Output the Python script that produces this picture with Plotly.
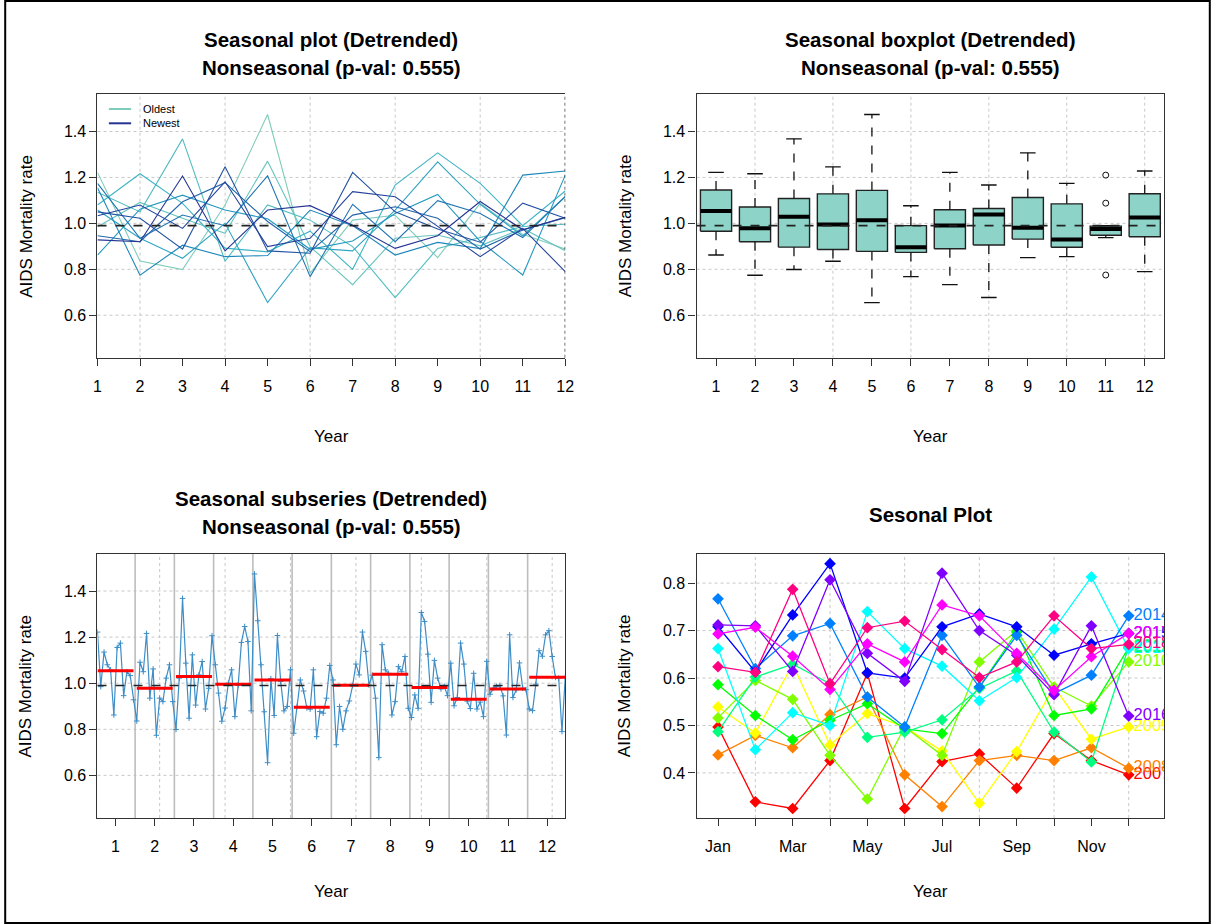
import numpy as np
import plotly.graph_objects as go

# ---------------- data ----------------
years = [2007, 2008, 2009, 2010, 2011, 2012, 2013, 2014, 2015, 2016, 2017, 2018]
month_ticks = [1, 2, 3, 4, 5, 6, 7, 8, 9, 10, 11, 12]
month_names = ["Jan", "Feb", "Mar", "Apr", "May", "Jun", "Jul", "Aug", "Sep", "Oct", "Nov", "Dec"]
y_ticks_det = [0.6, 0.8, 1.0, 1.2, 1.4]
y_ticks_raw = [0.4, 0.5, 0.6, 0.7, 0.8]

# detrended values, one list per month, years oldest -> newest
det_m01 = [1.222, 0.985, 1.135, 1.080, 1.058, 0.862, 1.155, 1.174, 0.946, 1.050, 1.033, 0.928]
det_m02 = [0.836, 1.091, 1.050, 1.216, 0.935, 1.062, 0.774, 0.935, 0.920, 1.022, 1.080, 0.920]
det_m03 = [0.799, 1.022, 1.368, 1.087, 0.848, 1.123, 0.905, 1.036, 1.094, 0.888, 0.978, 1.206]
det_m04 = [1.080, 0.957, 0.835, 0.892, 1.000, 1.058, 0.855, 0.990, 1.177, 1.246, 1.181, 0.880]
det_m05 = [1.474, 1.271, 1.080, 0.876, 0.655, 1.020, 0.860, 1.207, 1.008, 0.880, 0.899, 1.058]
det_m06 = [0.783, 0.899, 1.014, 0.966, 0.893, 0.887, 1.058, 0.768, 0.877, 0.870, 0.935, 1.077]
det_m07 = [1.014, 0.733, 0.899, 0.800, 0.880, 0.923, 0.990, 1.083, 1.036, 1.222, 1.138, 0.992]
det_m08 = [1.035, 0.935, 0.677, 1.167, 1.058, 1.043, 0.862, 0.920, 1.072, 1.050, 1.116, 0.891]
det_m09 = [0.851, 0.949, 0.891, 1.307, 1.268, 1.126, 0.917, 1.099, 1.022, 0.975, 0.987, 0.946]
det_m10 = [1.087, 0.902, 0.938, 1.174, 1.083, 0.922, 0.890, 1.043, 0.888, 0.918, 0.855, 1.095]
det_m11 = [0.952, 0.978, 0.986, 0.990, 0.945, 0.775, 1.210, 0.938, 0.971, 1.088, 0.978, 0.972]
det_m12 = [0.888, 0.881, 0.996, 1.141, 1.117, 1.210, 1.228, 1.116, 1.025, 1.022, 0.790, 1.027]

# raw seasonal plot values (one list per year, Jan..Dec)
raw_2007 = [0.497, 0.339, 0.325, 0.426, 0.610, 0.325, 0.424, 0.440, 0.368, 0.483, 0.426, 0.396]
raw_2008 = [0.438, 0.479, 0.453, 0.523, 0.560, 0.396, 0.329, 0.426, 0.437, 0.426, 0.453, 0.410]
raw_2009 = [0.539, 0.484, 0.629, 0.459, 0.525, 0.497, 0.446, 0.336, 0.445, 0.581, 0.471, 0.497]
raw_2010 = [0.516, 0.595, 0.555, 0.437, 0.345, 0.497, 0.437, 0.634, 0.700, 0.581, 0.541, 0.634]
raw_2011 = [0.586, 0.521, 0.470, 0.511, 0.546, 0.493, 0.483, 0.581, 0.697, 0.521, 0.535, 0.664]
raw_2012 = [0.487, 0.602, 0.629, 0.588, 0.475, 0.486, 0.512, 0.578, 0.615, 0.486, 0.423, 0.666]
raw_2013 = [0.662, 0.449, 0.527, 0.500, 0.740, 0.662, 0.625, 0.552, 0.601, 0.703, 0.813, 0.662]
raw_2014 = [0.767, 0.620, 0.689, 0.715, 0.560, 0.497, 0.690, 0.581, 0.690, 0.567, 0.606, 0.731]
raw_2015 = [0.708, 0.613, 0.733, 0.841, 0.611, 0.600, 0.708, 0.735, 0.708, 0.648, 0.672, 0.694]
raw_2016 = [0.712, 0.710, 0.614, 0.807, 0.652, 0.593, 0.821, 0.700, 0.648, 0.565, 0.710, 0.520]
raw_2017 = [0.693, 0.707, 0.646, 0.576, 0.672, 0.634, 0.754, 0.731, 0.652, 0.574, 0.645, 0.694]
raw_2018 = [0.624, 0.612, 0.787, 0.588, 0.706, 0.720, 0.660, 0.601, 0.634, 0.731, 0.662, 0.671]

det_months = [det_m01, det_m02, det_m03, det_m04, det_m05, det_m06,
              det_m07, det_m08, det_m09, det_m10, det_m11, det_m12]
raw_years = [raw_2007, raw_2008, raw_2009, raw_2010, raw_2011, raw_2012,
             raw_2013, raw_2014, raw_2015, raw_2016, raw_2017, raw_2018]

# ---------------- helpers ----------------
W, H = 1220, 924
FONT = "Liberation Sans, Arial, sans-serif"


def px(x):
    return x / W


def py(y):
    return 1 - y / H


def ramp(anchors, n):
    rgb = np.array([[int(a[i:i + 2], 16) for i in (1, 3, 5)] for a in anchors], float)
    pos = np.linspace(0, 1, len(anchors))
    out = []
    for t in np.linspace(0, 1, n):
        c = [np.interp(t, pos, rgb[:, k]) for k in range(3)]
        out.append("#%02x%02x%02x" % tuple(int(round(v)) for v in c))
    return out


def fivenum(v):
    x = np.sort(np.asarray(v, float))
    n = len(x)
    n4 = np.floor((n + 3) / 2) / 2
    d = [1, n4, (n + 1) / 2, n + 1 - n4, n]
    return [0.5 * (x[int(np.floor(di)) - 1] + x[int(np.ceil(di)) - 1]) for di in d]


mat = np.array(det_months).T          # rows = years, cols = months
center = float(np.median(mat))
ncol = len(years)
year_cols = ramp(["#7fcdbb", "#41b6c4", "#1d91c0", "#225ea8", "#253494"], ncol)
rainbow = ["#FF0000", "#FF8000", "#FFFF00", "#80FF00", "#00FF00", "#00FF80",
           "#00FFFF", "#0080FF", "#0000FF", "#8000FF", "#FF00FF", "#FF0080"]

fig = go.Figure()

# ---- panel 1: seasonal plot (detrended) ----
for r in range(ncol):
    fig.add_trace(go.Scatter(x=month_ticks, y=mat[r], mode="lines",
                             line=dict(color=year_cols[r], width=1.1),
                             xaxis="x", yaxis="y", showlegend=False, hoverinfo="skip"))

# ---- panel 2: seasonal boxplot ----
wx, wy, sx, sy, mx, my, ox, oy = [], [], [], [], [], [], [], []
for i, vals in enumerate(det_months, start=1):
    v = np.array(vals)
    lo, q1, med, q3, hi = fivenum(v)
    iqr = q3 - q1
    inside = v[(v >= q1 - 1.5 * iqr) & (v <= q3 + 1.5 * iqr)]
    wlo, whi = inside.min(), inside.max()
    for o in v[(v < q1 - 1.5 * iqr) | (v > q3 + 1.5 * iqr)]:
        ox.append(i)
        oy.append(o)
    fig.add_trace(go.Scatter(x=[i - 0.4, i + 0.4, i + 0.4, i - 0.4, i - 0.4],
                             y=[q1, q1, q3, q3, q1], mode="lines", fill="toself",
                             fillcolor="#8dd3c7", line=dict(color="#222", width=1.4),
                             xaxis="x2", yaxis="y2", showlegend=False, hoverinfo="skip"))
    wx += [i, i, None, i, i, None]
    wy += [q3, whi, None, q1, wlo, None]
    sx += [i - 0.2, i + 0.2, None, i - 0.2, i + 0.2, None]
    sy += [whi, whi, None, wlo, wlo, None]
    mx += [i - 0.4, i + 0.4, None]
    my += [med, med, None]
fig.add_trace(go.Scatter(x=wx, y=wy, mode="lines", line=dict(color="#111", width=1.3, dash="dash"),
                         xaxis="x2", yaxis="y2", showlegend=False, hoverinfo="skip"))
fig.add_trace(go.Scatter(x=sx, y=sy, mode="lines", line=dict(color="#111", width=1.4),
                         xaxis="x2", yaxis="y2", showlegend=False, hoverinfo="skip"))
fig.add_trace(go.Scatter(x=mx, y=my, mode="lines", line=dict(color="#000", width=4),
                         xaxis="x2", yaxis="y2", showlegend=False, hoverinfo="skip"))
fig.add_trace(go.Scatter(x=ox, y=oy, mode="markers",
                         marker=dict(symbol="circle-open", size=6, color="#111", line=dict(width=1)),
                         xaxis="x2", yaxis="y2", showlegend=False, hoverinfo="skip"))

# ---- panel 3: seasonal subseries ----
nyr = len(years)
sub_x, sub_y = [], []
for i, vals in enumerate(det_months):
    for j, v in enumerate(vals, start=1):
        sub_x.append(i * nyr + j)
        sub_y.append(v)
fig.add_trace(go.Scatter(x=sub_x, y=sub_y, mode="lines+markers",
                         line=dict(color="#3d8dc6", width=1.2),
                         marker=dict(symbol="cross-thin", size=4, color="#3d8dc6",
                                     line=dict(width=1, color="#3d8dc6")),
                         xaxis="x3", yaxis="y3", showlegend=False, hoverinfo="skip"))
rx, ry = [], []
for i, vals in enumerate(det_months):
    m = float(np.median(vals))
    rx += [i * nyr + 1, (i + 1) * nyr, None]
    ry += [m, m, None]
fig.add_trace(go.Scatter(x=rx, y=ry, mode="lines", line=dict(color="#ff0000", width=3),
                         xaxis="x3", yaxis="y3", showlegend=False, hoverinfo="skip"))

# ---- panel 4: seasonal plot (raw) ----
for k, (yr, vals) in enumerate(zip(years, raw_years)):
    fig.add_trace(go.Scatter(x=month_ticks, y=vals, mode="lines+markers",
                             line=dict(color=rainbow[k], width=1.3),
                             marker=dict(symbol="diamond", size=9, color=rainbow[k]),
                             xaxis="x4", yaxis="y4", showlegend=False, hoverinfo="skip"))
label_shift = 0.13   # small gap between the last point and its year label (axis units)
for k, (yr, vals) in enumerate(zip(years, raw_years)):
    fig.add_trace(go.Scatter(x=[month_ticks[-1] + label_shift], y=[vals[-1]], mode="text",
                             text=[str(yr)], textposition="middle right",
                             textfont=dict(size=16.5, color=rainbow[k], family=FONT),
                             cliponaxis=True,
                             xaxis="x4", yaxis="y4", showlegend=False, hoverinfo="skip"))

# ---------------- axes ----------------
L1, R1 = 94.5, 567.3
L2, R2 = 700, 1172.7
T1, B1 = 94.3, 357.7
T2, B2 = 553.7, 818.0

axis_common = dict(showline=True, linecolor="#333", linewidth=1.3, mirror=True,
                   ticks="outside", ticklen=7, tickwidth=1.2, tickcolor="#333",
                   showgrid=False, zeroline=False,
                   tickfont=dict(family=FONT, size=16, color="#000"))

sub_centers = [i * nyr + (nyr + 1) / 2 for i in range(12)]
br_text = [n if k % 2 == 0 else "" for k, n in enumerate(month_names)]

fig.update_layout(
    width=W, height=H, margin=dict(l=0, r=0, t=0, b=0), autosize=False,
    paper_bgcolor="white", plot_bgcolor="white", showlegend=False,
    xaxis=dict(axis_common, domain=[px(L1), px(R1)], range=[1, 12],
               tickvals=month_ticks, ticktext=[str(m) for m in month_ticks],
               anchor="y", ticklabelstandoff=7),
    yaxis=dict(axis_common, domain=[py(B1), py(T1)], range=[0.415, 1.562],
               tickvals=y_ticks_det, ticktext=[f"{t:.1f}" for t in y_ticks_det],
               anchor="x", mirror=False),
    xaxis2=dict(axis_common, domain=[px(L2), px(R2)], range=[0.5, 12.5],
                tickvals=month_ticks, ticktext=[str(m) for m in month_ticks],
                anchor="y2", ticklabelstandoff=7),
    yaxis2=dict(axis_common, domain=[py(B1), py(T1)], range=[0.415, 1.562],
                tickvals=y_ticks_det, ticktext=[f"{t:.1f}" for t in y_ticks_det],
                anchor="x2"),
    xaxis3=dict(axis_common, domain=[px(L1), px(R1)], range=[1, 12 * nyr],
                tickvals=sub_centers, ticktext=[str(m) for m in month_ticks],
                anchor="y3", ticklabelstandoff=7),
    yaxis3=dict(axis_common, domain=[py(B2), py(T2)], range=[0.415, 1.562],
                tickvals=y_ticks_det, ticktext=[f"{t:.1f}" for t in y_ticks_det],
                anchor="x3"),
    xaxis4=dict(axis_common, domain=[px(L2), px(R2)], range=[0.425, 12.95],
                tickvals=month_ticks, ticktext=br_text,
                anchor="y4", ticklabelstandoff=7),
    yaxis4=dict(axis_common, domain=[py(B2), py(T2)], range=[0.305, 0.862],
                tickvals=y_ticks_raw, ticktext=[f"{t:.1f}" for t in y_ticks_raw],
                anchor="x4"),
)

# ---------------- grids / reference lines ----------------
shapes = []
GRID = dict(color="#c8c8c8", width=1, dash="dot")


def vgrid(xs, ax):
    for x in xs:
        shapes.append(dict(type="line", xref=ax[0], yref=ax[1] + " domain",
                           x0=x, x1=x, y0=0, y1=1, line=GRID, layer="below"))


def hgrid(ys, ax):
    for y in ys:
        shapes.append(dict(type="line", xref=ax[0] + " domain", yref=ax[1],
                           x0=0, x1=1, y0=y, y1=y, line=GRID, layer="below"))


vgrid([2, 4, 6, 8, 10], ("x", "y"))
hgrid(y_ticks_det, ("x", "y"))
vgrid([2, 4, 6, 8, 10, 12], ("x2", "y2"))
hgrid(y_ticks_det, ("x2", "y2"))
vgrid([20, 40, 60, 80, 100, 120, 140], ("x3", "y3"))
hgrid(y_ticks_det, ("x3", "y3"))
vgrid([2, 4, 6, 8, 10, 12], ("x4", "y4"))
hgrid(y_ticks_raw, ("x4", "y4"))

# subseries separators
for i in range(1, 12):
    xb = i * nyr + 0.5
    shapes.append(dict(type="line", xref="x3", yref="y3 domain", x0=xb, x1=xb, y0=0, y1=1,
                       line=dict(color="#bdbdbd", width=1.6), layer="below"))

# dashed centre lines
for ax in (("x", "y"), ("x2", "y2"), ("x3", "y3")):
    shapes.append(dict(type="line", xref=ax[0] + " domain", yref=ax[1], x0=0, x1=1,
                       y0=center, y1=center, line=dict(color="#222", width=1.6, dash="dash"),
                       layer="above"))

# dotted right border of first panel
shapes.append(dict(type="line", xref="x", yref="y domain", x0=12, x1=12, y0=0, y1=1,
                   line=dict(color="#222", width=1.3, dash="dot"), layer="above"))

# legend lines (panel 1)
shapes.append(dict(type="line", xref="paper", yref="paper", x0=px(106), x1=px(128.5),
                   y0=py(109), y1=py(109), line=dict(color=year_cols[0], width=2)))
shapes.append(dict(type="line", xref="paper", yref="paper", x0=px(106), x1=px(128.5),
                   y0=py(123.3), y1=py(123.3), line=dict(color=year_cols[-1], width=2)))

# outer frame
shapes.append(dict(type="rect", xref="paper", yref="paper", x0=0.001, x1=0.999, y0=0.001,
                   y1=0.999, line=dict(color="#000", width=2)))

fig.update_layout(shapes=shapes)

# ---------------- text ----------------
ann = []


def text(x, y, s, size, bold=False, angle=0, xanchor="center", color="#000"):
    ann.append(dict(x=px(x), y=py(y), xref="paper", yref="paper", text=f"<b>{s}</b>" if bold else s,
                    showarrow=False, xanchor=xanchor, yanchor="middle", textangle=angle,
                    font=dict(family=FONT, size=size, color=color)))


cx1, cx2 = (L1 + R1) / 2, (L2 + R2) / 2
TS = 20.5
text(cx1, 40, "Seasonal plot (Detrended)", TS, bold=True)
text(cx1, 67, "Nonseasonal (p-val: 0.555)", TS, bold=True)
text(cx2, 40, "Seasonal boxplot (Detrended)", TS, bold=True)
text(cx2, 67, "Nonseasonal (p-val: 0.555)", TS, bold=True)
text(cx1, 499, "Seasonal subseries (Detrended)", TS, bold=True)
text(cx1, 526, "Nonseasonal (p-val: 0.555)", TS, bold=True)
text(cx2, 514, "Sesonal Plot", TS, bold=True)

for cx in (cx1, cx2):
    text(cx, 436, "Year", 17)
    text(cx, 891, "Year", 17)
for x in (22, 628):
    text(x, (T1 + B1) / 2, "AIDS Mortality rate", 17, angle=-90)
    text(x, (T2 + B2) / 2, "AIDS Mortality rate", 17, angle=-90)

text(138, 109, "Oldest", 11, xanchor="left")
text(138, 123.3, "Newest", 11, xanchor="left")

fig.update_layout(annotations=ann)

fig.write_html("out.html")
